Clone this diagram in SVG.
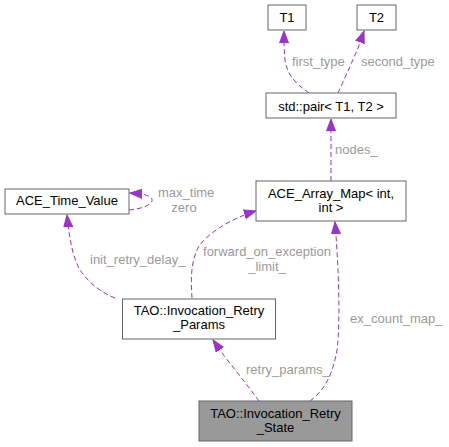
<svg xmlns="http://www.w3.org/2000/svg" width="449" height="447" viewBox="0 0 449 447">
<defs>
<marker id="ah" markerWidth="14" markerHeight="14" refX="12" refY="5" orient="auto" markerUnits="userSpaceOnUse">
<path d="M0,0.5 L12,5 L0,9.5 Z" fill="#9a32cd" stroke="#9a32cd"/>
</marker>
<style>
.n rect{fill:#fff;stroke:#666;stroke-width:1}
.n text{font-family:"Liberation Sans",Arial,sans-serif;font-size:13px;fill:#000;text-anchor:middle}
.e path{fill:none;stroke:#9a32cd;stroke-width:1;stroke-dasharray:5,3;marker-end:url(#ah)}
.l{font-family:"Liberation Sans",Arial,sans-serif;font-size:13px;fill:#9a9a9a}
</style>
</defs>
<rect width="449" height="447" fill="#fff"/>
<g id="edges" class="e">
<path d="M309,93 C296,84 287,75 285,60 C284,50 284,40 284,31"/>
<path d="M338,93 C344,80 352,62 358,48 L364,31"/>
<path d="M331,181 L331,119"/>
<path d="M129,210 C140,209 150,206 152,201 C153,196 145,194 130,193"/>
<path d="M115,298 C100,292 88,282 80,270 C72,256 69,235 67,215"/>
<path d="M192,298 C191,282 190,262 199,246 C208,233 232,218 256,211"/>
<path d="M310,401 C322,392 332,379 337,350 C341,318 338,260 335,222"/>
<path d="M259,401 C251,390 240,376 225,357 L213,340"/>
</g>
<g class="l">
<text x="292" y="65.5">first_type</text>
<text x="361" y="65.5">second_type</text>
<text x="335" y="153.5">nodes_</text>
<text x="158" y="197">max_time</text>
<text x="184" y="212" text-anchor="middle">zero</text>
<text x="90" y="263.5">init_retry_delay_</text>
<text x="267" y="255.5" text-anchor="middle">forward_on_exception</text>
<text x="267" y="271" text-anchor="middle">_limit_</text>
<text x="350" y="322.5">ex_count_map_</text>
<text x="246" y="373.5">retry_params_</text>
</g>
<g id="node-T1" class="n"><rect x="268" y="5" width="38" height="25"/><text x="287" y="21.5">T1</text></g>
<g id="node-T2" class="n"><rect x="357" y="5" width="39" height="25"/><text x="376.5" y="21.5">T2</text></g>
<g id="node-pair" class="n"><rect x="266" y="93" width="130" height="25"/><text x="331" y="111">std::pair&lt; T1, T2 &gt;</text></g>
<g id="node-arraymap" class="n"><rect x="256" y="181" width="150" height="40"/><text x="331" y="197.5">ACE_Array_Map&lt; int,</text><text x="331" y="212">int &gt;</text></g>
<g id="node-timevalue" class="n"><rect x="5" y="189" width="124" height="25"/><text x="67" y="205">ACE_Time_Value</text></g>
<g id="node-params" class="n"><rect x="122.5" y="299" width="153" height="40"/><text x="199" y="315">TAO::Invocation_Retry</text><text x="199" y="329">_Params</text></g>
<g id="node-state" class="n"><rect x="199" y="401" width="153" height="40" style="fill:#999"/><text x="275.5" y="417.5">TAO::Invocation_Retry</text><text x="275.5" y="431.5">_State</text></g>
</svg>
